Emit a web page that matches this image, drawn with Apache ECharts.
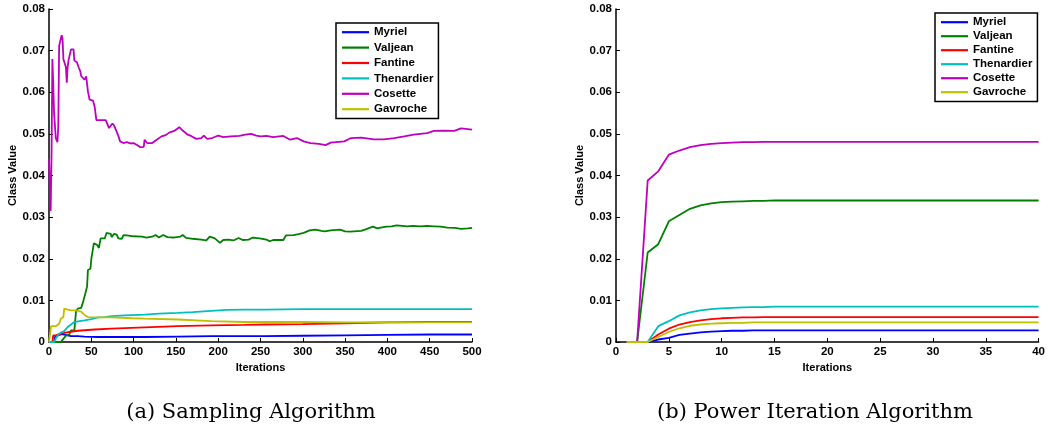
<!DOCTYPE html>
<html>
<head>
<meta charset="utf-8">
<script src="https://cdn.jsdelivr.net/npm/echarts@6/dist/echarts.min.js"></script>
<style>html,body{margin:0;padding:0;background:#fff;}#c{width:1048px;height:436px;}</style>
</head>
<body>
<div id="c"></div>
<script>
var names = ['Myriel','Valjean','Fantine','Thenardier','Cosette','Gavroche'];
var colors = ['#0000ff','#008000','#ff0000','#00bfbf','#bf00bf','#bfbf00'];
var captions = ['(a) Sampling Algorithm','(b) Power Iteration Algorithm'];

// (a) Sampling Algorithm: [iteration, value]
var sampMyriel = [[0,0],[6,0],[7,0.0012],[9,0.0016],[12,0.0017],[15,0.0019],[18,0.0018],[22,0.0016],[26,0.0014],[34,0.0014],[42,0.0013],[58,0.0012],[74,0.0012],[113,0.0012],[152,0.0013],[192,0.0014],[231,0.0014],[255,0.0014],[300,0.0015],[350,0.0016],[400,0.0017],[450,0.0018],[500,0.0018]];
var sampValjean = [[0,0],[14,0],[16,0.0005],[20,0.0015],[24,0.0018],[26,0.0028],[30,0.0028],[32,0.0075],[34,0.008],[38,0.0082],[40,0.0094],[43,0.0117],[45,0.0133],[46,0.0173],[49,0.0176],[50,0.0199],[52,0.0199],[53,0.0237],[55,0.0238],[57,0.0233],[59,0.0226],[61,0.0249],[66,0.0249],[68,0.0262],[73,0.026],[74,0.0252],[77,0.026],[80,0.0258],[82,0.0249],[86,0.0248],[88,0.0257],[92,0.0256],[100,0.0254],[110,0.0253],[115,0.0251],[122,0.0253],[126,0.0257],[130,0.0251],[135,0.0257],[140,0.0252],[147,0.0251],[155,0.0253],[158,0.0257],[162,0.025],[170,0.0248],[180,0.0246],[186,0.0244],[190,0.0253],[196,0.0249],[202,0.0238],[206,0.0245],[212,0.0246],[218,0.0244],[224,0.025],[229,0.0245],[236,0.0246],[241,0.0251],[249,0.0249],[257,0.0246],[261,0.0242],[265,0.0245],[277,0.0245],[280,0.0256],[289,0.0257],[295,0.0259],[301,0.0262],[308,0.0268],[315,0.027],[322,0.0267],[326,0.0266],[333,0.0268],[344,0.027],[350,0.0266],[356,0.0265],[369,0.0267],[375,0.0271],[383,0.0277],[388,0.0273],[392,0.0275],[399,0.0277],[405,0.0278],[411,0.028],[423,0.0278],[430,0.0279],[439,0.0278],[447,0.0279],[455,0.0278],[463,0.0277],[471,0.0275],[480,0.0274],[487,0.0272],[495,0.0273],[500,0.0274]];
var sampFantine = [[0,0],[4,0],[5,0.0016],[8,0.0016],[10,0.0017],[12,0.0019],[18,0.0022],[24,0.0024],[34,0.0027],[54,0.003],[74,0.0032],[113,0.0035],[152,0.0038],[192,0.004],[231,0.0041],[255,0.0042],[300,0.0043],[350,0.0045],[400,0.0047],[450,0.0048],[500,0.0048]];
var sampThenardier = [[0,0],[6,0],[8,0.0008],[10,0.0015],[12,0.002],[15,0.0024],[18,0.0026],[22,0.0036],[26,0.0042],[30,0.0048],[36,0.005],[42,0.0052],[50,0.0055],[58,0.0059],[66,0.006],[74,0.0062],[90,0.0064],[113,0.0066],[130,0.0068],[152,0.007],[170,0.0072],[192,0.0075],[210,0.0077],[231,0.0078],[255,0.0078],[300,0.0079],[350,0.0079],[400,0.0079],[450,0.0079],[500,0.0079]];
var sampCosette = [[0,0.044],[1,0.037],[2,0.0315],[3,0.045],[4,0.068],[5,0.062],[6,0.055],[7,0.0552],[8,0.049],[10,0.048],[11,0.052],[12,0.0712],[14,0.0712],[15,0.0737],[16,0.073],[17,0.068],[19,0.0683],[20,0.066],[21,0.0623],[22,0.066],[23,0.0676],[25,0.068],[26,0.0703],[29,0.0703],[30,0.0676],[33,0.0672],[35,0.066],[37,0.065],[38,0.0639],[40,0.064],[42,0.063],[44,0.0638],[46,0.0602],[48,0.0582],[52,0.058],[54,0.0565],[56,0.0533],[67,0.0533],[71,0.0514],[75,0.0525],[77,0.052],[79,0.051],[82,0.0495],[84,0.0482],[88,0.0478],[92,0.048],[96,0.0477],[100,0.0478],[105,0.0472],[108,0.0468],[112,0.0469],[113,0.0486],[116,0.0478],[122,0.0478],[126,0.0484],[133,0.0494],[138,0.0497],[142,0.0503],[148,0.0507],[154,0.0516],[158,0.0508],[164,0.0498],[168,0.0495],[174,0.0488],[180,0.049],[183,0.0496],[187,0.0488],[193,0.049],[200,0.0496],[206,0.0492],[215,0.0494],[225,0.0495],[232,0.0498],[239,0.05],[245,0.0496],[250,0.0494],[257,0.0495],[265,0.0492],[277,0.0495],[285,0.0486],[293,0.049],[301,0.0482],[309,0.0478],[319,0.0476],[327,0.0473],[333,0.0479],[349,0.0482],[357,0.049],[369,0.0491],[384,0.0487],[396,0.0487],[408,0.049],[420,0.0494],[431,0.0498],[447,0.0502],[455,0.0507],[467,0.0508],[479,0.0507],[487,0.0513],[500,0.051]];
var sampGavroche = [[0,0],[2,0],[2.5,0.0038],[8,0.0038],[10,0.004],[12,0.0044],[14,0.0056],[16,0.0058],[17,0.006],[18,0.008],[22,0.0078],[26,0.0076],[28,0.0075],[32,0.0076],[34,0.0078],[38,0.0073],[40,0.0069],[42,0.0065],[46,0.006],[58,0.0059],[74,0.0059],[98,0.0057],[113,0.0056],[152,0.0054],[192,0.005],[231,0.0048],[255,0.0048],[300,0.0048],[350,0.0047],[400,0.0047],[450,0.0047],[500,0.0047]];

// (b) Power Iteration Algorithm: iterations 1..40
var powerIter = [1,2,3,4,5,6,7,8,9,10,11,12,13,14,15,16,17,18,19,20,21,22,23,24,25,26,27,28,29,30,31,32,33,34,35,36,37,38,39,40];
var powMyriel = [0,0,0,0.0006,0.001,0.0017,0.002,0.0023,0.0025,0.0026,0.0027,0.0027,0.0028,0.0028,0.0028,0.0028,0.0028,0.0028,0.0028,0.0028,0.0028,0.0028,0.0028,0.0028,0.0028,0.0028,0.0028,0.0028,0.0028,0.0028,0.0028,0.0028,0.0028,0.0028,0.0028,0.0028,0.0028,0.0028,0.0028,0.0028];
var powValjean = [0,0,0.0215,0.0235,0.029,0.0305,0.032,0.0328,0.0333,0.0336,0.0337,0.0338,0.0339,0.0339,0.034,0.034,0.034,0.034,0.034,0.034,0.034,0.034,0.034,0.034,0.034,0.034,0.034,0.034,0.034,0.034,0.034,0.034,0.034,0.034,0.034,0.034,0.034,0.034,0.034,0.034];
var powFantine = [0,0,0,0.0018,0.0032,0.0042,0.0048,0.0052,0.0055,0.0057,0.0058,0.0059,0.0059,0.006,0.006,0.006,0.006,0.006,0.006,0.006,0.006,0.006,0.006,0.006,0.006,0.006,0.006,0.006,0.006,0.006,0.006,0.006,0.006,0.006,0.006,0.006,0.006,0.006,0.006,0.006];
var powThenardier = [0,0,0,0.0038,0.005,0.0064,0.0071,0.0076,0.0079,0.0081,0.0082,0.0083,0.0084,0.0084,0.0085,0.0085,0.0085,0.0085,0.0085,0.0085,0.0085,0.0085,0.0085,0.0085,0.0085,0.0085,0.0085,0.0085,0.0085,0.0085,0.0085,0.0085,0.0085,0.0085,0.0085,0.0085,0.0085,0.0085,0.0085,0.0085];
var powCosette = [0,0,0.0388,0.041,0.045,0.046,0.0468,0.0473,0.0476,0.0478,0.0479,0.048,0.048,0.0481,0.0481,0.0481,0.0481,0.0481,0.0481,0.0481,0.0481,0.0481,0.0481,0.0481,0.0481,0.0481,0.0481,0.0481,0.0481,0.0481,0.0481,0.0481,0.0481,0.0481,0.0481,0.0481,0.0481,0.0481,0.0481,0.0481];
var powGavroche = [0,0,0,0.0012,0.0024,0.0033,0.0039,0.0042,0.0044,0.0045,0.0046,0.0046,0.0047,0.0047,0.0047,0.0047,0.0047,0.0047,0.0047,0.0047,0.0047,0.0047,0.0047,0.0047,0.0047,0.0047,0.0047,0.0047,0.0047,0.0047,0.0047,0.0047,0.0047,0.0047,0.0047,0.0047,0.0047,0.0047,0.0047,0.0047];

var sampSeries = [sampMyriel, sampValjean, sampFantine, sampThenardier, sampCosette, sampGavroche];
var powSeries = [powMyriel, powValjean, powFantine, powThenardier, powCosette, powGavroche];

var FONT = 'Liberation Sans, Arial, sans-serif';
function xAxisCfg(grid, max, interval) {
  return {
    type: 'value', gridIndex: grid, min: 0, max: max, interval: interval,
    name: 'Iterations', nameLocation: 'middle', nameGap: 20,
    nameTextStyle: {fontFamily: FONT, fontWeight: 'bold', fontSize: 11, color: '#000'},
    axisLine: {show: true, onZero: false, lineStyle: {color: '#000', width: 1.5}},
    axisTick: {show: true, inside: true, length: 4, lineStyle: {color: '#000', width: 1}},
    axisLabel: {fontFamily: FONT, fontWeight: 'bold', fontSize: 11.5, color: '#000', margin: 4},
    splitLine: {show: false}
  };
}
function yAxisCfg(grid) {
  return {
    type: 'value', gridIndex: grid, min: 0, max: 0.08, interval: 0.01,
    name: 'Class Value', nameLocation: 'middle', nameGap: 30, nameRotate: 90,
    nameTextStyle: {fontFamily: FONT, fontWeight: 'bold', fontSize: 11, color: '#000'},
    axisLine: {show: true, onZero: false, lineStyle: {color: '#000', width: 1.5}},
    axisTick: {show: true, inside: true, length: 4, lineStyle: {color: '#000', width: 1}},
    axisLabel: {fontFamily: FONT, fontWeight: 'bold', fontSize: 11.5, color: '#000', margin: 4,
      formatter: function (v) { return v === 0 ? '0' : v.toFixed(2); }},
    splitLine: {show: false}
  };
}
function legendCfg(left, top, gap) {
  return {
    left: left, top: top, orient: 'vertical', icon: 'rect', itemWidth: 27, itemHeight: 2.2,
    itemGap: gap, padding: [3, 5, 3, 6], borderColor: '#000', borderWidth: 1.5,
    backgroundColor: '#fff', data: names, selectedMode: false,
    textStyle: {fontFamily: FONT, fontWeight: 'bold', fontSize: 11.5, color: '#000', lineHeight: 12.4}
  };
}

var series = [];
names.forEach(function (n, i) {
  series.push({
    name: n, type: 'line', xAxisIndex: 0, yAxisIndex: 0, data: sampSeries[i],
    showSymbol: false, animation: false, color: colors[i],
    lineStyle: {width: 1.8, color: colors[i]}
  });
});
names.forEach(function (n, i) {
  series.push({
    name: n, type: 'line', xAxisIndex: 1, yAxisIndex: 1,
    data: powerIter.map(function (x, k) { return [x, powSeries[i][k]]; }),
    showSymbol: false, animation: false, color: colors[i],
    lineStyle: {width: 1.8, color: colors[i]}
  });
});

var chart = echarts.init(document.getElementById('c'));
chart.setOption({
  animation: false,
  backgroundColor: '#fff',
  grid: [
    {left: 49, top: 9, width: 423, height: 333},
    {left: 616, top: 9, width: 423, height: 333}
  ],
  xAxis: [xAxisCfg(0, 500, 50), xAxisCfg(1, 40, 5)],
  yAxis: [yAxisCfg(0), yAxisCfg(1)],
  legend: [legendCfg(336, 23, 3), legendCfg(935, 13, 1.6)],
  graphic: [
    {type: 'text', x: 251, y: 413, style: {text: captions[0], fill: '#000', font: '21px "DejaVu Serif", serif', textAlign: 'center', textVerticalAlign: 'middle'}},
    {type: 'text', x: 815, y: 413, style: {text: captions[1], fill: '#000', font: '21px "DejaVu Serif", serif', textAlign: 'center', textVerticalAlign: 'middle'}}
  ],
  series: series
});
</script>
</body>
</html>
